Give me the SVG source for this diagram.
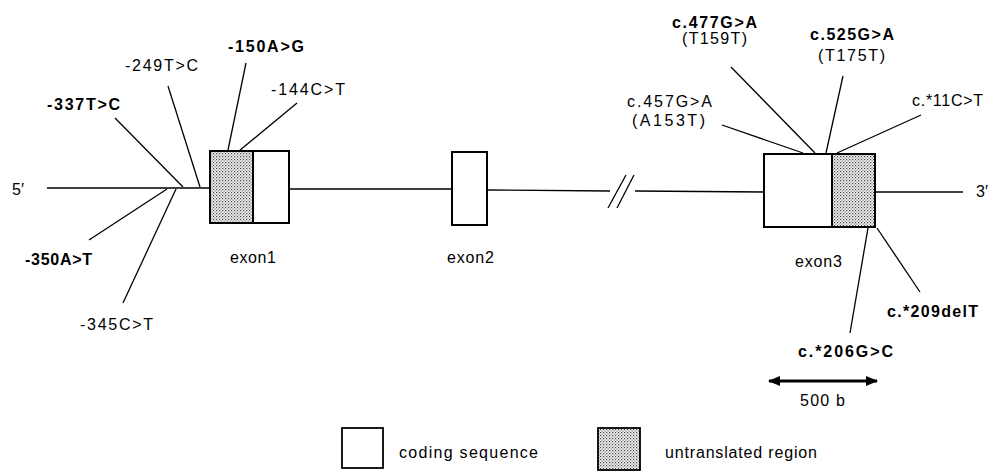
<svg xmlns="http://www.w3.org/2000/svg" width="998" height="473" viewBox="0 0 998 473">
<style>
text{font-family:"Liberation Sans",Arial,sans-serif;font-size:16px;fill:#000}
.b{font-weight:bold}
.ln{stroke:#000;stroke-width:1.3;fill:none}
.box{stroke:#000;stroke-width:2;fill:#fff}
.utr{stroke:#000;stroke-width:2;fill:url(#dots)}
</style>
<defs>
<pattern id="dots" width="3" height="3" patternUnits="userSpaceOnUse">
<rect width="3" height="3" fill="#f4f4f4"/>
<rect x="0" y="0" width="1.2" height="1.2" fill="#444"/>
<rect x="1.5" y="1.5" width="1.2" height="1.2" fill="#777"/>
</pattern>
<marker id="ah" viewBox="0 0 12 10" refX="11" refY="5" markerWidth="12" markerHeight="10" markerUnits="userSpaceOnUse" orient="auto-start-reverse">
<path d="M0,0 L12,5 L0,10 Z" fill="#000"/>
</marker>
</defs>

<g id="backbone">
<line class="ln" x1="47" y1="188" x2="210" y2="188" stroke-width="1.6"/>
<line class="ln" x1="289" y1="189" x2="452" y2="189" stroke-width="1.6"/>
<line class="ln" x1="487" y1="190" x2="610" y2="191" stroke-width="1.6"/>
<line class="ln" x1="635" y1="191" x2="764" y2="192" stroke-width="1.6"/>
<line class="ln" x1="875" y1="192" x2="963" y2="192" stroke-width="1.6"/>
<line class="ln" x1="608" y1="208" x2="626" y2="175" stroke-width="1.5"/>
<line class="ln" x1="617" y1="208" x2="634" y2="175" stroke-width="1.5"/>
<text x="12" y="195">5′</text>
<text x="976" y="197">3′</text>
</g>

<g id="exon1">
<rect class="box" x="210" y="151" width="79" height="72"/>
<rect class="utr" x="210" y="151" width="43" height="72"/>
<text x="230" y="263" textLength="46" lengthAdjust="spacing">exon1</text>
</g>
<g id="exon2">
<rect class="box" x="452" y="152" width="35" height="73"/>
<text x="447" y="263" textLength="47" lengthAdjust="spacing">exon2</text>
</g>
<g id="exon3">
<rect class="box" x="764" y="154" width="111" height="73"/>
<rect class="utr" x="832" y="154" width="43" height="73"/>
<text x="795" y="267" textLength="47" lengthAdjust="spacing">exon3</text>
</g>

<g id="connectors">
<line class="ln" x1="115" y1="118" x2="183" y2="187"/>
<line class="ln" x1="168" y1="86" x2="200" y2="187"/>
<line class="ln" x1="246" y1="63" x2="228" y2="150"/>
<line class="ln" x1="297" y1="103" x2="239" y2="151"/>
<line class="ln" x1="89" y1="240" x2="167" y2="189"/>
<line class="ln" x1="123" y1="303" x2="176" y2="189"/>
<line class="ln" x1="731" y1="67" x2="815" y2="153"/>
<line class="ln" x1="843" y1="76" x2="826" y2="153"/>
<line class="ln" x1="722" y1="125" x2="803" y2="153"/>
<line class="ln" x1="921" y1="115" x2="837" y2="153"/>
<line class="ln" x1="877" y1="228" x2="920" y2="292"/>
<line class="ln" x1="868" y1="228" x2="850" y2="333"/>
</g>

<g id="v-249"><text x="125" y="71" textLength="73" lengthAdjust="spacing">-249T&gt;C</text></g>
<g id="v-150"><text class="b" x="228" y="52" textLength="76" lengthAdjust="spacing">-150A&gt;G</text></g>
<g id="v-144"><text x="271" y="95" textLength="74" lengthAdjust="spacing">-144C&gt;T</text></g>
<g id="v-337"><text class="b" x="47" y="110" textLength="73" lengthAdjust="spacing">-337T&gt;C</text></g>
<g id="v-350"><text class="b" x="25" y="265" textLength="67" lengthAdjust="spacing">-350A&gt;T</text></g>
<g id="v-345"><text x="80" y="330" textLength="73" lengthAdjust="spacing">-345C&gt;T</text></g>

<g id="v-477">
<text class="b" x="672" y="28" textLength="85" lengthAdjust="spacing">c.477G&gt;A</text>
<text x="682" y="44" textLength="65" lengthAdjust="spacing">(T159T)</text>
</g>
<g id="v-525">
<text class="b" x="810" y="40" textLength="84" lengthAdjust="spacing">c.525G&gt;A</text>
<text x="818" y="61" textLength="67" lengthAdjust="spacing">(T175T)</text>
</g>
<g id="v-457">
<text x="627" y="107" textLength="85" lengthAdjust="spacing">c.457G&gt;A</text>
<text x="632" y="126" textLength="73" lengthAdjust="spacing">(A153T)</text>
</g>
<g id="v-11"><text x="912" y="106" textLength="71" lengthAdjust="spacing">c.*11C&gt;T</text></g>
<g id="v-209"><text class="b" x="887" y="317" textLength="91" lengthAdjust="spacing">c.*209delT</text></g>
<g id="v-206"><text class="b" x="798" y="357" textLength="95" lengthAdjust="spacing">c.*206G&gt;C</text></g>

<g id="scale">
<line x1="769" y1="381" x2="877" y2="381" stroke="#000" stroke-width="3" marker-start="url(#ah)" marker-end="url(#ah)"/>
<text x="800" y="406" textLength="45" lengthAdjust="spacing">500 b</text>
</g>

<g id="legend-coding">
<rect x="342" y="428" width="41" height="40" fill="#fff" stroke="#000" stroke-width="1.8"/>
<text x="399" y="458" textLength="139" lengthAdjust="spacing">coding sequence</text>
</g>
<g id="legend-utr">
<rect x="598" y="428" width="42" height="42" fill="url(#dots)" stroke="#000" stroke-width="1.8"/>
<text x="665" y="458" textLength="152" lengthAdjust="spacing">untranslated region</text>
</g>
</svg>
